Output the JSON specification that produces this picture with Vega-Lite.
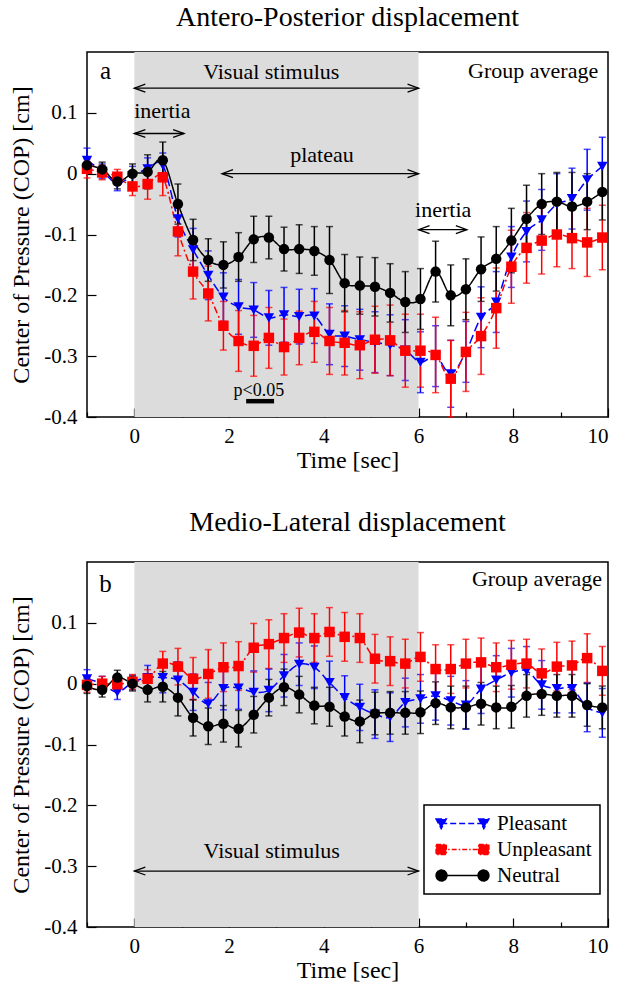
{
"$schema":"https://vega.github.io/schema/vega-lite/v6.json",
"padding":{"left":9,"top":3,"right":5,"bottom":5},
"background":"white",
"config":{
 "font":"Liberation Serif",
 "view":{"stroke":"black","strokeWidth":1.5},
 "axis":{"grid":false,"domain":false,"labelFontSize":21,"titleFontSize":24,"titleFontWeight":"normal","labelColor":"black","titleColor":"black","tickColor":"black","tickWidth":1.2,"labelFont":"Liberation Serif","titleFont":"Liberation Serif"},
 "title":{"fontSize":28,"fontWeight":"normal","anchor":"middle","color":"black","offset":20,"font":"Liberation Serif"},
 "legend":{"strokeWidth":1.5}
},
"datasets":{
"series":[
{"p":"a","c":"Pleasant","t":-1,"v":0.022,"e":0.02},{"p":"a","c":"Pleasant","t":-0.68,"v":0.004,"e":0.012},{"p":"a","c":"Pleasant","t":-0.36,"v":-0.016,"e":0.012},{"p":"a","c":"Pleasant","t":-0.04,"v":-0.003,"e":0.015},{"p":"a","c":"Pleasant","t":0.28,"v":0.008,"e":0.018},{"p":"a","c":"Pleasant","t":0.6,"v":0.014,"e":0.02},{"p":"a","c":"Pleasant","t":0.92,"v":-0.074,"e":0.03},{"p":"a","c":"Pleasant","t":1.24,"v":-0.125,"e":0.035},{"p":"a","c":"Pleasant","t":1.56,"v":-0.167,"e":0.04},{"p":"a","c":"Pleasant","t":1.88,"v":-0.203,"e":0.04},{"p":"a","c":"Pleasant","t":2.2,"v":-0.219,"e":0.045},{"p":"a","c":"Pleasant","t":2.52,"v":-0.224,"e":0.045},{"p":"a","c":"Pleasant","t":2.84,"v":-0.237,"e":0.045},{"p":"a","c":"Pleasant","t":3.16,"v":-0.232,"e":0.045},{"p":"a","c":"Pleasant","t":3.48,"v":-0.235,"e":0.045},{"p":"a","c":"Pleasant","t":3.8,"v":-0.234,"e":0.045},{"p":"a","c":"Pleasant","t":4.12,"v":-0.264,"e":0.05},{"p":"a","c":"Pleasant","t":4.44,"v":-0.267,"e":0.05},{"p":"a","c":"Pleasant","t":4.76,"v":-0.273,"e":0.05},{"p":"a","c":"Pleasant","t":5.08,"v":-0.277,"e":0.05},{"p":"a","c":"Pleasant","t":5.4,"v":-0.282,"e":0.05},{"p":"a","c":"Pleasant","t":5.72,"v":-0.29,"e":0.05},{"p":"a","c":"Pleasant","t":6.04,"v":-0.31,"e":0.05},{"p":"a","c":"Pleasant","t":6.36,"v":-0.3,"e":0.05},{"p":"a","c":"Pleasant","t":6.68,"v":-0.329,"e":0.055},{"p":"a","c":"Pleasant","t":7,"v":-0.293,"e":0.05},{"p":"a","c":"Pleasant","t":7.32,"v":-0.236,"e":0.05},{"p":"a","c":"Pleasant","t":7.64,"v":-0.211,"e":0.05},{"p":"a","c":"Pleasant","t":7.96,"v":-0.137,"e":0.05},{"p":"a","c":"Pleasant","t":8.28,"v":-0.095,"e":0.05},{"p":"a","c":"Pleasant","t":8.6,"v":-0.076,"e":0.05},{"p":"a","c":"Pleasant","t":8.92,"v":-0.05,"e":0.05},{"p":"a","c":"Pleasant","t":9.24,"v":-0.041,"e":0.05},{"p":"a","c":"Pleasant","t":9.56,"v":-0.01,"e":0.05},{"p":"a","c":"Pleasant","t":9.88,"v":0.012,"e":0.048},
{"p":"a","c":"Unpleasant","t":-1,"v":0.008,"e":0.015},{"p":"a","c":"Unpleasant","t":-0.68,"v":0.002,"e":0.012},{"p":"a","c":"Unpleasant","t":-0.36,"v":-0.005,"e":0.012},{"p":"a","c":"Unpleasant","t":-0.04,"v":-0.021,"e":0.015},{"p":"a","c":"Unpleasant","t":0.28,"v":-0.017,"e":0.025},{"p":"a","c":"Unpleasant","t":0.6,"v":-0.006,"e":0.03},{"p":"a","c":"Unpleasant","t":0.92,"v":-0.095,"e":0.04},{"p":"a","c":"Unpleasant","t":1.24,"v":-0.161,"e":0.045},{"p":"a","c":"Unpleasant","t":1.56,"v":-0.197,"e":0.045},{"p":"a","c":"Unpleasant","t":1.88,"v":-0.25,"e":0.04},{"p":"a","c":"Unpleasant","t":2.2,"v":-0.275,"e":0.05},{"p":"a","c":"Unpleasant","t":2.52,"v":-0.283,"e":0.05},{"p":"a","c":"Unpleasant","t":2.84,"v":-0.27,"e":0.05},{"p":"a","c":"Unpleasant","t":3.16,"v":-0.285,"e":0.046},{"p":"a","c":"Unpleasant","t":3.48,"v":-0.27,"e":0.044},{"p":"a","c":"Unpleasant","t":3.8,"v":-0.26,"e":0.05},{"p":"a","c":"Unpleasant","t":4.12,"v":-0.275,"e":0.055},{"p":"a","c":"Unpleasant","t":4.44,"v":-0.278,"e":0.053},{"p":"a","c":"Unpleasant","t":4.76,"v":-0.282,"e":0.055},{"p":"a","c":"Unpleasant","t":5.08,"v":-0.273,"e":0.055},{"p":"a","c":"Unpleasant","t":5.4,"v":-0.274,"e":0.058},{"p":"a","c":"Unpleasant","t":5.72,"v":-0.291,"e":0.06},{"p":"a","c":"Unpleasant","t":6.04,"v":-0.291,"e":0.06},{"p":"a","c":"Unpleasant","t":6.36,"v":-0.298,"e":0.062},{"p":"a","c":"Unpleasant","t":6.68,"v":-0.337,"e":0.063},{"p":"a","c":"Unpleasant","t":7,"v":-0.293,"e":0.065},{"p":"a","c":"Unpleasant","t":7.32,"v":-0.267,"e":0.063},{"p":"a","c":"Unpleasant","t":7.64,"v":-0.221,"e":0.066},{"p":"a","c":"Unpleasant","t":7.96,"v":-0.153,"e":0.06},{"p":"a","c":"Unpleasant","t":8.28,"v":-0.122,"e":0.058},{"p":"a","c":"Unpleasant","t":8.6,"v":-0.11,"e":0.055},{"p":"a","c":"Unpleasant","t":8.92,"v":-0.1,"e":0.053},{"p":"a","c":"Unpleasant","t":9.24,"v":-0.106,"e":0.05},{"p":"a","c":"Unpleasant","t":9.56,"v":-0.113,"e":0.056},{"p":"a","c":"Unpleasant","t":9.88,"v":-0.105,"e":0.053},
{"p":"a","c":"Neutral","t":-1,"v":0.014,"e":0.012},{"p":"a","c":"Neutral","t":-0.68,"v":0.007,"e":0.012},{"p":"a","c":"Neutral","t":-0.36,"v":-0.013,"e":0.012},{"p":"a","c":"Neutral","t":-0.04,"v":0.0,"e":0.016},{"p":"a","c":"Neutral","t":0.28,"v":0.003,"e":0.028},{"p":"a","c":"Neutral","t":0.6,"v":0.022,"e":0.03},{"p":"a","c":"Neutral","t":0.92,"v":-0.05,"e":0.033},{"p":"a","c":"Neutral","t":1.24,"v":-0.109,"e":0.034},{"p":"a","c":"Neutral","t":1.56,"v":-0.142,"e":0.035},{"p":"a","c":"Neutral","t":1.88,"v":-0.15,"e":0.038},{"p":"a","c":"Neutral","t":2.2,"v":-0.137,"e":0.04},{"p":"a","c":"Neutral","t":2.52,"v":-0.108,"e":0.038},{"p":"a","c":"Neutral","t":2.84,"v":-0.105,"e":0.035},{"p":"a","c":"Neutral","t":3.16,"v":-0.124,"e":0.036},{"p":"a","c":"Neutral","t":3.48,"v":-0.124,"e":0.04},{"p":"a","c":"Neutral","t":3.8,"v":-0.127,"e":0.04},{"p":"a","c":"Neutral","t":4.12,"v":-0.142,"e":0.055},{"p":"a","c":"Neutral","t":4.44,"v":-0.18,"e":0.047},{"p":"a","c":"Neutral","t":4.76,"v":-0.184,"e":0.047},{"p":"a","c":"Neutral","t":5.08,"v":-0.186,"e":0.048},{"p":"a","c":"Neutral","t":5.4,"v":-0.196,"e":0.048},{"p":"a","c":"Neutral","t":5.72,"v":-0.211,"e":0.05},{"p":"a","c":"Neutral","t":6.04,"v":-0.206,"e":0.05},{"p":"a","c":"Neutral","t":6.36,"v":-0.161,"e":0.05},{"p":"a","c":"Neutral","t":6.68,"v":-0.2,"e":0.05},{"p":"a","c":"Neutral","t":7,"v":-0.19,"e":0.05},{"p":"a","c":"Neutral","t":7.32,"v":-0.157,"e":0.053},{"p":"a","c":"Neutral","t":7.64,"v":-0.14,"e":0.053},{"p":"a","c":"Neutral","t":7.96,"v":-0.11,"e":0.053},{"p":"a","c":"Neutral","t":8.28,"v":-0.074,"e":0.055},{"p":"a","c":"Neutral","t":8.6,"v":-0.05,"e":0.05},{"p":"a","c":"Neutral","t":8.92,"v":-0.046,"e":0.048},{"p":"a","c":"Neutral","t":9.24,"v":-0.054,"e":0.056},{"p":"a","c":"Neutral","t":9.56,"v":-0.046,"e":0.046},{"p":"a","c":"Neutral","t":9.88,"v":-0.03,"e":0.046},
{"p":"b","c":"Pleasant","t":-1,"v":0.008,"e":0.015},{"p":"b","c":"Pleasant","t":-0.68,"v":0.0,"e":0.012},{"p":"b","c":"Pleasant","t":-0.36,"v":-0.014,"e":0.012},{"p":"b","c":"Pleasant","t":-0.04,"v":0.002,"e":0.012},{"p":"b","c":"Pleasant","t":0.28,"v":0.01,"e":0.02},{"p":"b","c":"Pleasant","t":0.6,"v":0.01,"e":0.025},{"p":"b","c":"Pleasant","t":0.92,"v":0.006,"e":0.03},{"p":"b","c":"Pleasant","t":1.24,"v":-0.014,"e":0.03},{"p":"b","c":"Pleasant","t":1.56,"v":-0.033,"e":0.035},{"p":"b","c":"Pleasant","t":1.88,"v":-0.008,"e":0.035},{"p":"b","c":"Pleasant","t":2.2,"v":-0.007,"e":0.035},{"p":"b","c":"Pleasant","t":2.52,"v":-0.014,"e":0.035},{"p":"b","c":"Pleasant","t":2.84,"v":-0.011,"e":0.035},{"p":"b","c":"Pleasant","t":3.16,"v":0.013,"e":0.035},{"p":"b","c":"Pleasant","t":3.48,"v":0.032,"e":0.035},{"p":"b","c":"Pleasant","t":3.8,"v":0.027,"e":0.035},{"p":"b","c":"Pleasant","t":4.12,"v":0.002,"e":0.035},{"p":"b","c":"Pleasant","t":4.44,"v":-0.023,"e":0.036},{"p":"b","c":"Pleasant","t":4.76,"v":-0.039,"e":0.038},{"p":"b","c":"Pleasant","t":5.08,"v":-0.05,"e":0.04},{"p":"b","c":"Pleasant","t":5.4,"v":-0.055,"e":0.04},{"p":"b","c":"Pleasant","t":5.72,"v":-0.031,"e":0.04},{"p":"b","c":"Pleasant","t":6.04,"v":-0.025,"e":0.04},{"p":"b","c":"Pleasant","t":6.36,"v":-0.02,"e":0.04},{"p":"b","c":"Pleasant","t":6.68,"v":-0.028,"e":0.04},{"p":"b","c":"Pleasant","t":7,"v":-0.035,"e":0.04},{"p":"b","c":"Pleasant","t":7.32,"v":-0.009,"e":0.04},{"p":"b","c":"Pleasant","t":7.64,"v":0.006,"e":0.04},{"p":"b","c":"Pleasant","t":7.96,"v":0.018,"e":0.04},{"p":"b","c":"Pleasant","t":8.28,"v":0.021,"e":0.04},{"p":"b","c":"Pleasant","t":8.6,"v":-0.002,"e":0.04},{"p":"b","c":"Pleasant","t":8.92,"v":-0.008,"e":0.04},{"p":"b","c":"Pleasant","t":9.24,"v":-0.008,"e":0.04},{"p":"b","c":"Pleasant","t":9.56,"v":-0.039,"e":0.04},{"p":"b","c":"Pleasant","t":9.88,"v":-0.048,"e":0.04},
{"p":"b","c":"Unpleasant","t":-1,"v":-0.002,"e":0.012},{"p":"b","c":"Unpleasant","t":-0.68,"v":0.0,"e":0.012},{"p":"b","c":"Unpleasant","t":-0.36,"v":-0.001,"e":0.012},{"p":"b","c":"Unpleasant","t":-0.04,"v":0.003,"e":0.012},{"p":"b","c":"Unpleasant","t":0.28,"v":0.008,"e":0.015},{"p":"b","c":"Unpleasant","t":0.6,"v":0.033,"e":0.02},{"p":"b","c":"Unpleasant","t":0.92,"v":0.028,"e":0.03},{"p":"b","c":"Unpleasant","t":1.24,"v":0.008,"e":0.035},{"p":"b","c":"Unpleasant","t":1.56,"v":0.016,"e":0.04},{"p":"b","c":"Unpleasant","t":1.88,"v":0.027,"e":0.04},{"p":"b","c":"Unpleasant","t":2.2,"v":0.029,"e":0.04},{"p":"b","c":"Unpleasant","t":2.52,"v":0.059,"e":0.04},{"p":"b","c":"Unpleasant","t":2.84,"v":0.065,"e":0.04},{"p":"b","c":"Unpleasant","t":3.16,"v":0.075,"e":0.04},{"p":"b","c":"Unpleasant","t":3.48,"v":0.084,"e":0.04},{"p":"b","c":"Unpleasant","t":3.8,"v":0.075,"e":0.04},{"p":"b","c":"Unpleasant","t":4.12,"v":0.085,"e":0.04},{"p":"b","c":"Unpleasant","t":4.44,"v":0.077,"e":0.04},{"p":"b","c":"Unpleasant","t":4.76,"v":0.075,"e":0.04},{"p":"b","c":"Unpleasant","t":5.08,"v":0.041,"e":0.04},{"p":"b","c":"Unpleasant","t":5.4,"v":0.037,"e":0.04},{"p":"b","c":"Unpleasant","t":5.72,"v":0.033,"e":0.04},{"p":"b","c":"Unpleasant","t":6.04,"v":0.044,"e":0.04},{"p":"b","c":"Unpleasant","t":6.36,"v":0.024,"e":0.04},{"p":"b","c":"Unpleasant","t":6.68,"v":0.024,"e":0.04},{"p":"b","c":"Unpleasant","t":7,"v":0.033,"e":0.04},{"p":"b","c":"Unpleasant","t":7.32,"v":0.035,"e":0.04},{"p":"b","c":"Unpleasant","t":7.64,"v":0.027,"e":0.04},{"p":"b","c":"Unpleasant","t":7.96,"v":0.031,"e":0.04},{"p":"b","c":"Unpleasant","t":8.28,"v":0.033,"e":0.04},{"p":"b","c":"Unpleasant","t":8.6,"v":0.017,"e":0.04},{"p":"b","c":"Unpleasant","t":8.92,"v":0.028,"e":0.04},{"p":"b","c":"Unpleasant","t":9.24,"v":0.03,"e":0.04},{"p":"b","c":"Unpleasant","t":9.56,"v":0.042,"e":0.04},{"p":"b","c":"Unpleasant","t":9.88,"v":0.021,"e":0.04},
{"p":"b","c":"Neutral","t":-1,"v":-0.004,"e":0.012},{"p":"b","c":"Neutral","t":-0.68,"v":-0.01,"e":0.012},{"p":"b","c":"Neutral","t":-0.36,"v":0.01,"e":0.012},{"p":"b","c":"Neutral","t":-0.04,"v":0.0,"e":0.012},{"p":"b","c":"Neutral","t":0.28,"v":-0.01,"e":0.02},{"p":"b","c":"Neutral","t":0.6,"v":-0.005,"e":0.025},{"p":"b","c":"Neutral","t":0.92,"v":-0.023,"e":0.03},{"p":"b","c":"Neutral","t":1.24,"v":-0.056,"e":0.03},{"p":"b","c":"Neutral","t":1.56,"v":-0.07,"e":0.03},{"p":"b","c":"Neutral","t":1.88,"v":-0.066,"e":0.03},{"p":"b","c":"Neutral","t":2.2,"v":-0.074,"e":0.03},{"p":"b","c":"Neutral","t":2.52,"v":-0.051,"e":0.03},{"p":"b","c":"Neutral","t":2.84,"v":-0.023,"e":0.03},{"p":"b","c":"Neutral","t":3.16,"v":-0.006,"e":0.03},{"p":"b","c":"Neutral","t":3.48,"v":-0.018,"e":0.03},{"p":"b","c":"Neutral","t":3.8,"v":-0.036,"e":0.03},{"p":"b","c":"Neutral","t":4.12,"v":-0.038,"e":0.032},{"p":"b","c":"Neutral","t":4.44,"v":-0.054,"e":0.032},{"p":"b","c":"Neutral","t":4.76,"v":-0.062,"e":0.035},{"p":"b","c":"Neutral","t":5.08,"v":-0.049,"e":0.035},{"p":"b","c":"Neutral","t":5.4,"v":-0.048,"e":0.035},{"p":"b","c":"Neutral","t":5.72,"v":-0.048,"e":0.035},{"p":"b","c":"Neutral","t":6.04,"v":-0.047,"e":0.035},{"p":"b","c":"Neutral","t":6.36,"v":-0.032,"e":0.035},{"p":"b","c":"Neutral","t":6.68,"v":-0.039,"e":0.035},{"p":"b","c":"Neutral","t":7,"v":-0.039,"e":0.035},{"p":"b","c":"Neutral","t":7.32,"v":-0.033,"e":0.035},{"p":"b","c":"Neutral","t":7.64,"v":-0.039,"e":0.035},{"p":"b","c":"Neutral","t":7.96,"v":-0.038,"e":0.035},{"p":"b","c":"Neutral","t":8.28,"v":-0.02,"e":0.035},{"p":"b","c":"Neutral","t":8.6,"v":-0.017,"e":0.035},{"p":"b","c":"Neutral","t":8.92,"v":-0.02,"e":0.035},{"p":"b","c":"Neutral","t":9.24,"v":-0.02,"e":0.035},{"p":"b","c":"Neutral","t":9.56,"v":-0.035,"e":0.035},{"p":"b","c":"Neutral","t":9.88,"v":-0.039,"e":0.035}
],
"notes":[
{"p":"a","k":"panel","t":-0.61,"v":0.155,"label":"a"},
{"p":"a","k":"note","t":2.89,"v":0.155,"label":"Visual stimulus"},
{"p":"a","k":"note","t":8.42,"v":0.157,"label":"Group average"},
{"p":"a","k":"note","t":0.59,"v":0.091,"label":"inertia"},
{"p":"a","k":"note","t":3.96,"v":0.02,"label":"plateau"},
{"p":"a","k":"note","t":6.52,"v":-0.071,"label":"inertia"},
{"p":"a","k":"sig","t":2.63,"v":-0.366,"label":"p<0.05"},
{"p":"b","k":"panel","t":-0.61,"v":0.15,"label":"b"},
{"p":"b","k":"note","t":8.5,"v":0.161,"label":"Group average"},
{"p":"b","k":"note","t":2.9,"v":-0.287,"label":"Visual stimulus"}
],
"arrows":[
{"p":"a","t1":0,"t2":6,"v":0.1405},
{"p":"a","t1":0,"t2":1.05,"v":0.066},
{"p":"a","t1":1.85,"t2":6,"v":0.0},
{"p":"a","t1":6,"t2":7.02,"v":-0.092},
{"p":"b","t1":0,"t2":6,"v":-0.308}
],
"sigbar":[{"p":"a","t1":2.36,"t2":2.95,"v":-0.374}],
"stim":[{"s":0,"e":6}]
},
"vconcat":[
{
 "title":{"text":"Antero-Posterior displacement"},
 "width":521,"height":365,
 "layer":[
  {"data":{"name":"stim"},"mark":{"type":"rect","color":"#dcdcdc"},
   "encoding":{
    "x":{"field":"s","type":"quantitative","scale":{"domain":[-1,10],"nice":false,"zero":false},
     "axis":{"title":"Time [sec]","values":[-1,0,1,2,3,4,5,6,7,8,9,10],"labelExpr":"datum.value % 2 === 0 ? datum.label : ''","tickSize":{"condition":{"test":"datum.value % 2 !== 0","value":-5},"value":-9},"labelPadding":17,"titlePadding":2}},
    "x2":{"field":"e"}}},
  {"data":{"name":"series"},"transform":[{"filter":"datum.p === 'a'"}],
   "mark":{"type":"errorbar","ticks":true,"size":7,"thickness":1.5},
   "encoding":{
    "x":{"field":"t","type":"quantitative"},
    "y":{"field":"v","type":"quantitative","scale":{"domain":[-0.4,0.2],"nice":false,"zero":false},
     "axis":{"title":"Center of Pressure (COP) [cm]","values":[-0.4,-0.35,-0.3,-0.25,-0.2,-0.15,-0.1,-0.05,0,0.05,0.1,0.15],"labelExpr":"abs(round(datum.value*20)) % 2 === 0 ? '' + datum.value : ''","tickSize":{"condition":{"test":"abs(round(datum.value*20)) % 2 === 1","value":-5},"value":-9},"labelPadding":19,"titlePadding":10}},
    "yError":{"field":"e"},
    "color":{"field":"c","type":"nominal","scale":{"domain":["Pleasant","Unpleasant","Neutral"],"range":["#0000ff","#ff0000","#000000"]},"legend":null}}},
  {"data":{"name":"series"},"transform":[{"filter":"datum.p === 'a'"}],
   "mark":{"type":"line","interpolate":"cardinal","strokeWidth":1.5},
   "encoding":{
    "x":{"field":"t","type":"quantitative"},
    "y":{"field":"v","type":"quantitative"},
    "color":{"field":"c","type":"nominal","legend":null},
    "strokeDash":{"field":"c","type":"nominal","scale":{"domain":["Pleasant","Unpleasant","Neutral"],"range":[[9,4],[7,3,2,3],[1,0]]},"legend":null}}},
  {"data":{"name":"series"},"transform":[{"filter":"datum.p === 'a'"}],
   "mark":{"type":"point","filled":true,"opacity":1,"size":110},
   "encoding":{
    "x":{"field":"t","type":"quantitative"},
    "y":{"field":"v","type":"quantitative"},
    "color":{"field":"c","type":"nominal","legend":null},
    "shape":{"field":"c","type":"nominal","scale":{"domain":["Pleasant","Unpleasant","Neutral"],"range":["triangle-down","square","circle"]},"legend":null}}},
  {"data":{"name":"arrows"},"transform":[{"filter":"datum.p === 'a'"}],
   "mark":{"type":"rule","color":"black","strokeWidth":1.3},
   "encoding":{"x":{"field":"t1","type":"quantitative"},"x2":{"field":"t2"},"y":{"field":"v","type":"quantitative"}}},
  {"data":{"name":"arrows"},"transform":[{"filter":"datum.p === 'a'"}],
   "mark":{"type":"point","shape":"M1,-0.36L0,0L1,0.36","filled":false,"color":"black","strokeWidth":1.3,"size":484,"opacity":1},
   "encoding":{"x":{"field":"t1","type":"quantitative"},"y":{"field":"v","type":"quantitative"}}},
  {"data":{"name":"arrows"},"transform":[{"filter":"datum.p === 'a'"}],
   "mark":{"type":"point","shape":"M-1,-0.36L0,0L-1,0.36","filled":false,"color":"black","strokeWidth":1.3,"size":484,"opacity":1},
   "encoding":{"x":{"field":"t2","type":"quantitative"},"y":{"field":"v","type":"quantitative"}}},
  {"data":{"name":"sigbar"},
   "mark":{"type":"rule","color":"black","strokeWidth":4.5},
   "encoding":{"x":{"field":"t1","type":"quantitative"},"x2":{"field":"t2"},"y":{"field":"v","type":"quantitative"}}},
  {"data":{"name":"notes"},"transform":[{"filter":"datum.p === 'a' && datum.k === 'note'"}],
   "mark":{"type":"text","fontSize":22,"baseline":"alphabetic","align":"center","color":"black"},
   "encoding":{"x":{"field":"t","type":"quantitative"},"y":{"field":"v","type":"quantitative"},"text":{"field":"label"}}},
  {"data":{"name":"notes"},"transform":[{"filter":"datum.p === 'a' && datum.k === 'panel'"}],
   "mark":{"type":"text","fontSize":25,"baseline":"alphabetic","align":"center","color":"black"},
   "encoding":{"x":{"field":"t","type":"quantitative"},"y":{"field":"v","type":"quantitative"},"text":{"field":"label"}}},
  {"data":{"name":"notes"},"transform":[{"filter":"datum.p === 'a' && datum.k === 'sig'"}],
   "mark":{"type":"text","fontSize":18,"baseline":"alphabetic","align":"center","color":"black"},
   "encoding":{"x":{"field":"t","type":"quantitative"},"y":{"field":"v","type":"quantitative"},"text":{"field":"label"}}}
 ]
},
{
 "title":{"text":"Medio-Lateral displacement","offset":25},
 "width":521,"height":365,
 "resolve":{"scale":{"shape":"independent","fill":"independent","stroke":"independent","strokeDash":"independent"}},
 "layer":[
  {"data":{"name":"stim"},"mark":{"type":"rect","color":"#dcdcdc"},
   "encoding":{
    "x":{"field":"s","type":"quantitative","scale":{"domain":[-1,10],"nice":false,"zero":false},
     "axis":{"title":"Time [sec]","values":[-1,0,1,2,3,4,5,6,7,8,9,10],"labelExpr":"datum.value % 2 === 0 ? datum.label : ''","tickSize":{"condition":{"test":"datum.value % 2 !== 0","value":-5},"value":-9},"labelPadding":17,"titlePadding":2}},
    "x2":{"field":"e"}}},
  {"data":{"name":"series"},"transform":[{"filter":"datum.p === 'b'"}],
   "mark":{"type":"errorbar","ticks":true,"size":7,"thickness":1.5},
   "encoding":{
    "x":{"field":"t","type":"quantitative"},
    "y":{"field":"v","type":"quantitative","scale":{"domain":[-0.4,0.2],"nice":false,"zero":false},
     "axis":{"title":"Center of Pressure (COP) [cm]","values":[-0.4,-0.35,-0.3,-0.25,-0.2,-0.15,-0.1,-0.05,0,0.05,0.1,0.15],"labelExpr":"abs(round(datum.value*20)) % 2 === 0 ? '' + datum.value : ''","tickSize":{"condition":{"test":"abs(round(datum.value*20)) % 2 === 1","value":-5},"value":-9},"labelPadding":19,"titlePadding":10}},
    "yError":{"field":"e"},
    "color":{"field":"c","type":"nominal","scale":{"domain":["Pleasant","Unpleasant","Neutral"],"range":["#0000ff","#ff0000","#000000"]},"legend":null}}},
  {"data":{"name":"series"},"transform":[{"filter":"datum.p === 'b'"}],
   "mark":{"type":"line","interpolate":"cardinal","strokeWidth":1.5},
   "encoding":{
    "x":{"field":"t","type":"quantitative"},
    "y":{"field":"v","type":"quantitative"},
    "color":{"field":"c","type":"nominal","legend":null},
    "strokeDash":{"field":"c","type":"nominal","scale":{"domain":["Pleasant","Unpleasant","Neutral"],"range":[[9,4],[7,3,2,3],[1,0]]},"legend":null}}},
  {"data":{"name":"series"},"transform":[{"filter":"datum.p === 'b'"}],
   "mark":{"type":"point","filled":true,"opacity":1,"size":110},
   "encoding":{
    "x":{"field":"t","type":"quantitative"},
    "y":{"field":"v","type":"quantitative"},
    "color":{"field":"c","type":"nominal","legend":null},
    "shape":{"field":"c","type":"nominal","scale":{"domain":["Pleasant","Unpleasant","Neutral"],"range":["triangle-down","square","circle"]},"legend":null}}},
  {"data":{"name":"series"},"transform":[{"filter":"datum.p === 'none'"}],
   "mark":{"type":"point","filled":true,"opacity":1,"strokeWidth":1.5},
   "encoding":{
    "x":{"field":"t","type":"quantitative"},
    "y":{"field":"v","type":"quantitative"},
    "fill":{"field":"c","type":"nominal","scale":{"domain":["Pleasant","Unpleasant","Neutral"],"range":["#0000ff","#ff0000","#000000"]},
     "legend":{"orient":"none","legendX":337,"legendY":243,"title":null,"symbolSize":144,"symbolOffset":20,"labelOffset":24,"labelFontSize":21,"labelFont":"Liberation Serif","labelColor":"black","rowPadding":4,"padding":8,"strokeColor":"black","fillColor":"white","symbolStrokeWidth":1.5}},
    "stroke":{"field":"c","type":"nominal","scale":{"domain":["Pleasant","Unpleasant","Neutral"],"range":["#0000ff","#ff0000","#000000"]},
     "legend":{"orient":"none","legendX":337,"legendY":243,"title":null,"symbolSize":144,"symbolOffset":20,"labelOffset":24,"labelFontSize":21,"labelFont":"Liberation Serif","labelColor":"black","rowPadding":4,"padding":8,"strokeColor":"black","fillColor":"white","symbolStrokeWidth":1.5}},
    "strokeDash":{"field":"c","type":"nominal","scale":{"domain":["Pleasant","Unpleasant","Neutral"],"range":[[6,3],[5,2,1.5,2],[1,0]]},
     "legend":{"orient":"none","legendX":337,"legendY":243,"title":null,"symbolSize":144,"symbolOffset":20,"labelOffset":24,"labelFontSize":21,"labelFont":"Liberation Serif","labelColor":"black","rowPadding":4,"padding":8,"strokeColor":"black","fillColor":"white","symbolStrokeWidth":1.5}},
    "shape":{"field":"c","type":"nominal","scale":{"domain":["Pleasant","Unpleasant","Neutral"],"range":["M-4.4,-0.75L-2.7,-0.75L-3.55,0.85Z M2.7,-0.75L4.4,-0.75L3.55,0.85Z M-3.55,0L3.55,0","M-4.4,-0.85L-2.7,-0.85L-2.7,0.85L-4.4,0.85Z M2.7,-0.85L4.4,-0.85L4.4,0.85L2.7,0.85Z M-3.55,0L3.55,0","M-2.6,0A0.9,0.9,0,1,1,-4.4,0A0.9,0.9,0,1,1,-2.6,0Z M4.4,0A0.9,0.9,0,1,1,2.6,0A0.9,0.9,0,1,1,4.4,0Z M-3.5,0L3.5,0"]},
     "legend":{"orient":"none","legendX":337,"legendY":243,"title":null,"symbolSize":144,"symbolOffset":20,"labelOffset":24,"labelFontSize":21,"labelFont":"Liberation Serif","labelColor":"black","rowPadding":4,"padding":8,"strokeColor":"black","fillColor":"white","symbolStrokeWidth":1.5}}}},
  {"data":{"name":"arrows"},"transform":[{"filter":"datum.p === 'b'"}],
   "mark":{"type":"rule","color":"black","strokeWidth":1.3},
   "encoding":{"x":{"field":"t1","type":"quantitative"},"x2":{"field":"t2"},"y":{"field":"v","type":"quantitative"}}},
  {"data":{"name":"arrows"},"transform":[{"filter":"datum.p === 'b'"}],
   "mark":{"type":"point","shape":"M1,-0.36L0,0L1,0.36","filled":false,"color":"black","strokeWidth":1.3,"size":484,"opacity":1},
   "encoding":{"x":{"field":"t1","type":"quantitative"},"y":{"field":"v","type":"quantitative"}}},
  {"data":{"name":"arrows"},"transform":[{"filter":"datum.p === 'b'"}],
   "mark":{"type":"point","shape":"M-1,-0.36L0,0L-1,0.36","filled":false,"color":"black","strokeWidth":1.3,"size":484,"opacity":1},
   "encoding":{"x":{"field":"t2","type":"quantitative"},"y":{"field":"v","type":"quantitative"}}},
  {"data":{"name":"notes"},"transform":[{"filter":"datum.p === 'b' && datum.k === 'note'"}],
   "mark":{"type":"text","fontSize":22,"baseline":"alphabetic","align":"center","color":"black"},
   "encoding":{"x":{"field":"t","type":"quantitative"},"y":{"field":"v","type":"quantitative"},"text":{"field":"label"}}},
  {"data":{"name":"notes"},"transform":[{"filter":"datum.p === 'b' && datum.k === 'panel'"}],
   "mark":{"type":"text","fontSize":25,"baseline":"alphabetic","align":"center","color":"black"},
   "encoding":{"x":{"field":"t","type":"quantitative"},"y":{"field":"v","type":"quantitative"},"text":{"field":"label"}}}
 ]
}
],
"spacing":35,
"resolve":{"scale":{"color":"independent","shape":"independent","strokeDash":"independent","fill":"independent","stroke":"independent","x":"independent","y":"independent"}}
}
